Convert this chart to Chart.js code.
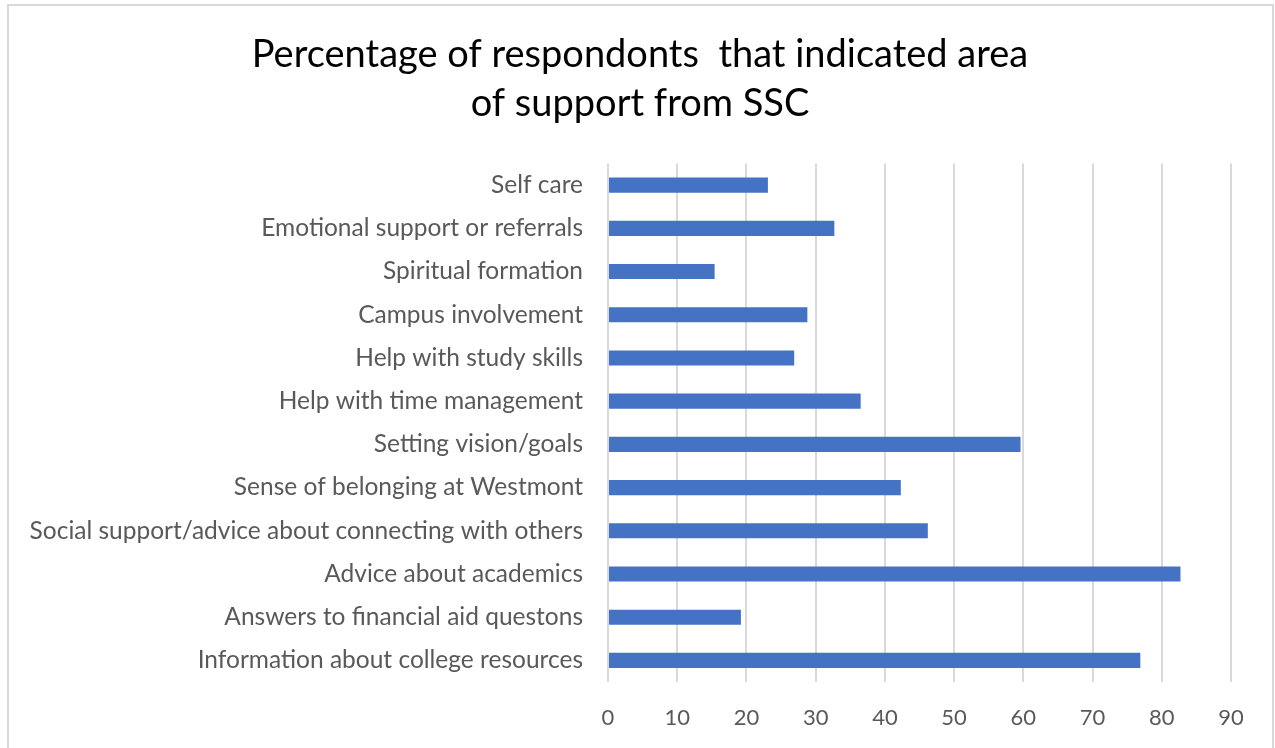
<!DOCTYPE html>
<html>
<head>
<meta charset="utf-8">
<script src="https://cdn.jsdelivr.net/npm/chart.js@4/dist/chart.umd.min.js"></script>
<style>
  html, body { margin: 0; padding: 0; background: #fff; }
  #wrap { width: 1275px; height: 748px; position: relative; }
</style>
</head>
<body>
<div id="wrap"><canvas id="chart"></canvas></div>
<script>
// Support areas, top to bottom as shown
const categories = [
  'Self care',
  'Emotional support or referrals',
  'Spiritual formation',
  'Campus involvement',
  'Help with study skills',
  'Help with time management',
  'Setting vision/goals',
  'Sense of belonging at Westmont',
  'Social support/advice about connecting with others',
  'Advice about academics',
  'Answers to financial aid questons',
  'Information about college resources'
];

// Percent of respondents
const percentages = [23.1, 32.7, 15.4, 28.8, 26.9, 36.5, 59.6, 42.3, 46.2, 82.7, 19.2, 76.9];

const xTicks = [0, 10, 20, 30, 40, 50, 60, 70, 80, 90];

const titleLines = ['Percentage of respondonts  that indicated area', 'of support from SSC'];

const FONT = 'Lato, "Open Sans", sans-serif';

// light grey frame around the chart area
const frame = {
  id: 'frame',
  beforeDraw(chart) {
    const ctx = chart.ctx;
    ctx.save();
    ctx.fillStyle = '#fff';
    ctx.fillRect(0, 0, chart.width, chart.height);
    ctx.strokeStyle = '#d9d9d9';
    ctx.lineWidth = 2;
    ctx.strokeRect(8, 5, 1265, 760);
    ctx.restore();
  }
};

new Chart(document.getElementById('chart'), {
  type: 'bar',
  data: {
    labels: categories,
    datasets: [{
      data: percentages,
      backgroundColor: '#4472c4',
      categoryPercentage: 0.35,
      barPercentage: 1
    }]
  },
  options: {
    indexAxis: 'y',
    responsive: true,
    maintainAspectRatio: false,
    animation: false,
    layout: { padding: { left: 8, right: 3, top: 0, bottom: 10 } },
    plugins: {
      legend: { display: false },
      tooltip: { enabled: false },
      title: {
        display: true,
        text: titleLines,
        color: '#000',
        font: { family: FONT, size: 38, weight: 'normal', lineHeight: 1.27 },
        padding: { top: 31, bottom: 36 }
      }
    },
    scales: {
      x: {
        min: 0,
        max: 90,
        afterBuildTicks(scale) {
          scale.ticks = xTicks.map(v => ({ value: v }));
        },
        afterFit(scale) { scale.height = 56; },
        grid: { color: '#d9d9d9', lineWidth: 2, drawTicks: false },
        border: { display: false },
        ticks: {
          color: '#595959',
          font: { family: FONT, size: 22 },
          padding: 23,
          maxRotation: 0
        }
      },
      y: {
        afterFit(scale) { scale.width = 600; },
        grid: { display: false },
        border: { display: false },
        ticks: {
          color: '#595959',
          font: { family: FONT, size: 24.5 },
          padding: 17,
          autoSkip: false
        }
      },
      // empty right-hand gutter so the plot ends short of the frame
      gutter: {
        type: 'linear',
        position: 'right',
        afterFit(scale) { scale.width = 41; },
        grid: { display: false },
        border: { display: false },
        ticks: { display: false }
      }
    }
  },
  plugins: [frame]
});
</script>
</body>
</html>
